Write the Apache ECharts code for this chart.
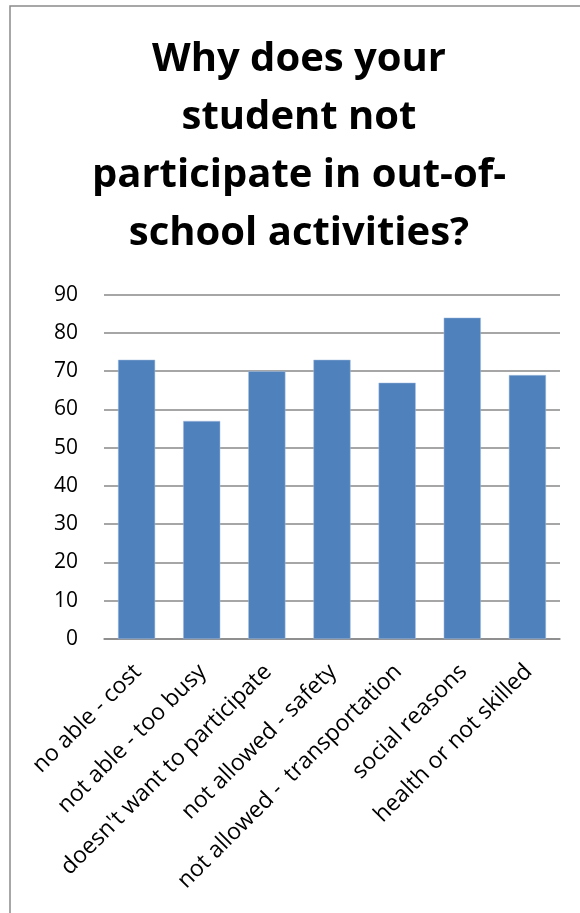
<!DOCTYPE html>
<html>
<head>
<meta charset="utf-8">
<script src="https://cdn.jsdelivr.net/npm/echarts@6/dist/echarts.min.js"></script>
<style>
  html, body { margin: 0; padding: 0; background: #ffffff; }
  #chart { width: 580px; height: 913px; }
</style>
</head>
<body>
<div id="chart"></div>
<script>
// Reasons students do not take part in out-of-school activities
const categories = [
  'no able - cost',
  'not able - too busy',
  "doesn't want to participate",
  'not allowed - safety',
  'not allowed -  transportation',
  'social reasons',
  'health or not skilled'
];
const counts = [73, 57, 70, 73, 67, 84, 69];
const yTicks = { min: 0, max: 90, interval: 10 };
const titleLines = ['Why does your', 'student not', 'participate in out-of-', 'school activities?'];

const FONT = '"Open Sans", Lato, sans-serif';
const chart = echarts.init(document.getElementById('chart'), null, { renderer: 'canvas' });

chart.setOption({
  backgroundColor: '#ffffff',
  animation: false,
  graphic: [
    {
      type: 'rect',
      shape: { x: 10, y: 6, width: 800, height: 1200 },
      style: { fill: 'none', stroke: '#8a8a8a', lineWidth: 1.5 },
      silent: true
    },
    {
      type: 'text',
      x: 299,
      y: 31,
      style: {
        text: titleLines.join('\n'),
        font: 'bold 40px ' + FONT,
        lineHeight: 58,
        textAlign: 'center',
        textVerticalAlign: 'top',
        fill: '#000000'
      }
    }
  ],
  grid: { left: 104, right: 20, top: 294.7, bottom: 274, containLabel: false },
  xAxis: {
    type: 'category',
    data: categories,
    axisLine: { show: true, lineStyle: { color: '#888888', width: 1.5 } },
    axisTick: { show: false },
    axisLabel: {
      rotate: 45,
      interval: 0,
      margin: 14,
      padding: [0, 10, 0, 0],
      verticalAlign: 'top',
      color: '#000000',
      fontFamily: FONT,
      fontSize: 23
    }
  },
  yAxis: {
    type: 'value',
    min: yTicks.min,
    max: yTicks.max,
    interval: yTicks.interval,
    axisLine: { show: false },
    axisTick: { show: false },
    splitLine: { lineStyle: { color: '#888888', width: 1.5 } },
    axisLabel: {
      margin: 26,
      color: '#000000',
      fontFamily: FONT,
      fontSize: 21
    }
  },
  series: [{
    type: 'bar',
    data: counts,
    barWidth: '57%',
    itemStyle: { color: '#4f81bd', borderColor: '#a9c1e0', borderWidth: 0.5 }
  }]
});
</script>
</body>
</html>
